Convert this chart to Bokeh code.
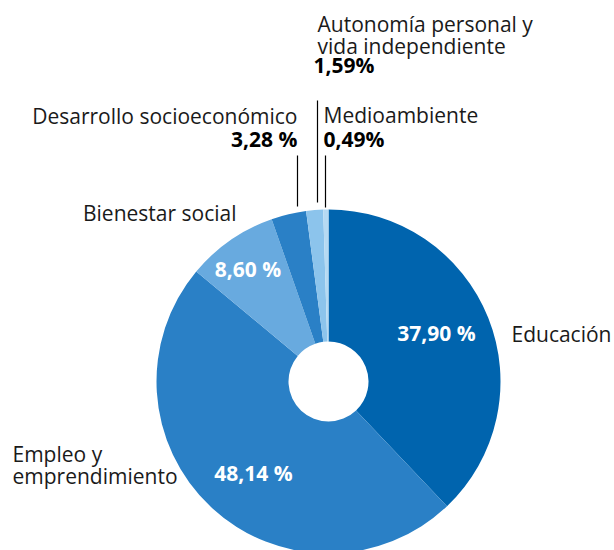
import math
from bokeh.plotting import figure
from bokeh.models import Range1d, ColumnDataSource
from bokeh.core.properties import value
from bokeh.embed import file_html
from bokeh.resources import INLINE

# ---- data ----
categories = ["Educación", "Empleo y emprendimiento", "Bienestar social",
              "Desarrollo socioeconómico", "Autonomía personal y vida independiente",
              "Medioambiente"]
shares = [37.90, 48.14, 8.60, 3.28, 1.59, 0.49]
pct_labels = ["37,90 %", "48,14 %", "8,60 %", "3,28 %", "1,59%", "0,49%"]
colors = ["#0064AE", "#2A80C6", "#68AADF", "#2A80C6", "#8CC4EC", "#B6DAF3"]

# ---- layout ----
W, H = 614, 550
TEXT_DY = -8.5
def Y(sy):  # screen y -> data y
    return H - sy

p = figure(width=W, height=H, output_backend="svg", toolbar_location=None,
           x_range=Range1d(0, W), y_range=Range1d(0, H),
           min_border=0, outline_line_color=None)
p.axis.visible = False
p.grid.visible = False
p.background_fill_color = "white"
p.border_fill_color = "white"

cx, cy, r_out, r_in = 328, Y(381), 172, 40

# wedge angles: start at top, go clockwise
total = sum(shares)
starts, ends = [], []
acc = 0.0
for s in shares:
    a0 = math.pi / 2 - 2 * math.pi * acc / total
    acc += s
    a1 = math.pi / 2 - 2 * math.pi * acc / total
    starts.append(a0)
    ends.append(a1)

src = ColumnDataSource(dict(start=starts, end=ends, color=colors,
                            cat=categories, share=shares))
p.annular_wedge(x=cx, y=cy, inner_radius=r_in, outer_radius=r_out,
                start_angle="start", end_angle="end", direction="clock",
                fill_color="color", line_color=None, source=src)

FONT = value("Open Sans")
FS = "21px"

def txt(x, sy, t, align="left", bold=False, color="#1a1a1a"):
    p.text(x=[x], y=[Y(sy + TEXT_DY)], text=[t], text_font=FONT, text_font_size=FS,
           text_align=align, text_baseline="alphabetic", text_color=color,
           text_font_style="bold" if bold else "normal")

# category labels
txt(511, 341.5, categories[0])
emp = categories[1].split(" ")
txt(12, 461.5, " ".join(emp[:2]))
txt(12, 484, " ".join(emp[2:]))
txt(236, 221, categories[2], align="right")
txt(297, 124, categories[3], align="right")
aut = categories[4].split(" ")
txt(317, 31.5, " ".join(aut[:3]))
txt(317, 53.5, " ".join(aut[3:]))
txt(323, 123, categories[5])

# percentage labels
txt(436, 341, pct_labels[0], align="center", bold=True, color="white")
txt(253, 481, pct_labels[1], align="center", bold=True, color="white")
txt(247.5, 277, pct_labels[2], align="center", bold=True, color="white")
txt(297, 147, pct_labels[3], align="right", bold=True, color="black")
txt(313, 73, pct_labels[4], align="left", bold=True, color="black")
txt(323, 147, pct_labels[5], align="left", bold=True, color="black")

# leader lines
p.segment(x0=[297, 317, 325], y0=[Y(155), Y(100), Y(155)],
          x1=[297, 317, 325], y1=[Y(206), Y(202), Y(207)],
          line_color="black", line_width=1.2)

open("out.html", "w").write(file_html(p, INLINE))
